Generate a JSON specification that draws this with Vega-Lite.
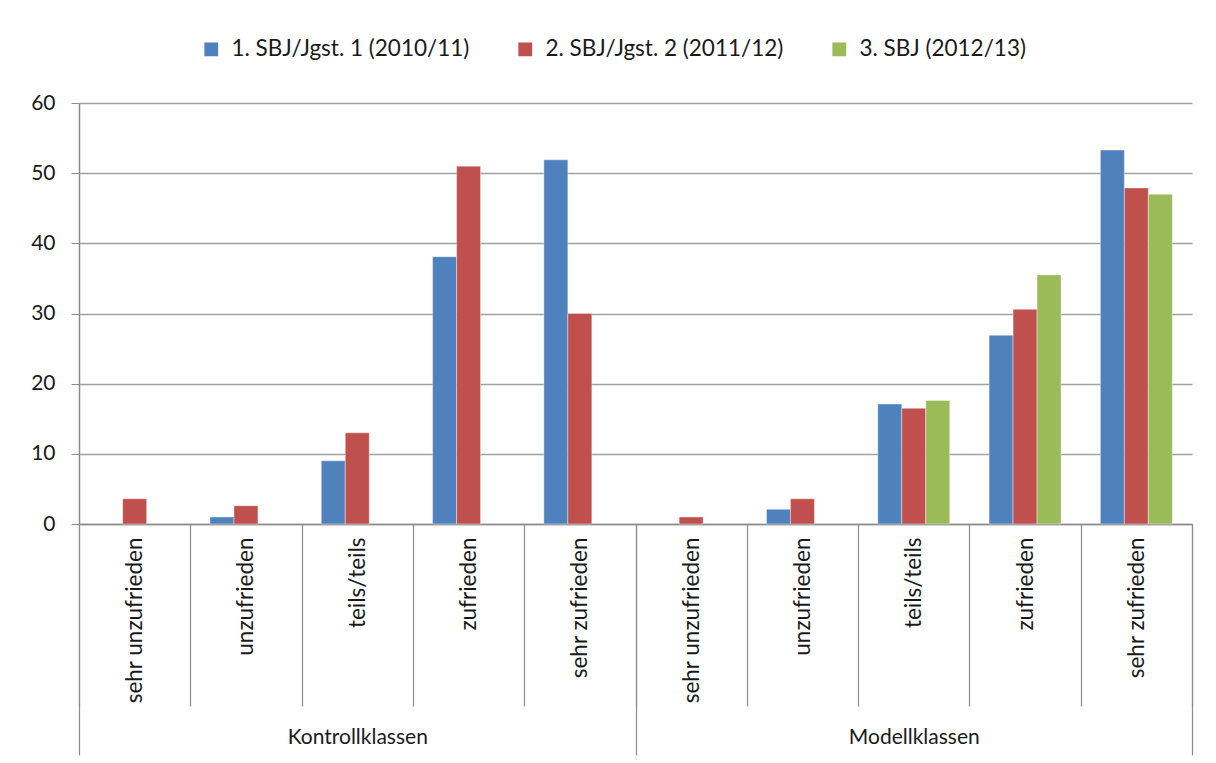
{
  "$schema": "https://vega.github.io/schema/vega-lite/v6.json",
  "width": 1113,
  "height": 421,
  "autosize": {"type": "none"},
  "padding": {"left": 79, "top": 103, "right": 24, "bottom": 239},
  "background": "white",
  "config": {"font": "Lato", "view": {"stroke": null}},
  "data": {
    "values": [
      {"group": "Kontrollklassen", "key": "K|sehr unzufrieden", "series": "2. SBJ/Jgst. 2 (2011/12)", "value": 3.6},
      {"group": "Kontrollklassen", "key": "K|unzufrieden", "series": "1. SBJ/Jgst. 1 (2010/11)", "value": 1.0},
      {"group": "Kontrollklassen", "key": "K|unzufrieden", "series": "2. SBJ/Jgst. 2 (2011/12)", "value": 2.6},
      {"group": "Kontrollklassen", "key": "K|teils/teils", "series": "1. SBJ/Jgst. 1 (2010/11)", "value": 9.0},
      {"group": "Kontrollklassen", "key": "K|teils/teils", "series": "2. SBJ/Jgst. 2 (2011/12)", "value": 13.0},
      {"group": "Kontrollklassen", "key": "K|zufrieden", "series": "1. SBJ/Jgst. 1 (2010/11)", "value": 38.1},
      {"group": "Kontrollklassen", "key": "K|zufrieden", "series": "2. SBJ/Jgst. 2 (2011/12)", "value": 51.0},
      {"group": "Kontrollklassen", "key": "K|sehr zufrieden", "series": "1. SBJ/Jgst. 1 (2010/11)", "value": 51.9},
      {"group": "Kontrollklassen", "key": "K|sehr zufrieden", "series": "2. SBJ/Jgst. 2 (2011/12)", "value": 30.0},
      {"group": "Modellklassen", "key": "M|sehr unzufrieden", "series": "2. SBJ/Jgst. 2 (2011/12)", "value": 1.0},
      {"group": "Modellklassen", "key": "M|unzufrieden", "series": "1. SBJ/Jgst. 1 (2010/11)", "value": 2.1},
      {"group": "Modellklassen", "key": "M|unzufrieden", "series": "2. SBJ/Jgst. 2 (2011/12)", "value": 3.6},
      {"group": "Modellklassen", "key": "M|teils/teils", "series": "1. SBJ/Jgst. 1 (2010/11)", "value": 17.1},
      {"group": "Modellklassen", "key": "M|teils/teils", "series": "2. SBJ/Jgst. 2 (2011/12)", "value": 16.5},
      {"group": "Modellklassen", "key": "M|teils/teils", "series": "3. SBJ (2012/13)", "value": 17.6},
      {"group": "Modellklassen", "key": "M|zufrieden", "series": "1. SBJ/Jgst. 1 (2010/11)", "value": 26.9},
      {"group": "Modellklassen", "key": "M|zufrieden", "series": "2. SBJ/Jgst. 2 (2011/12)", "value": 30.6},
      {"group": "Modellklassen", "key": "M|zufrieden", "series": "3. SBJ (2012/13)", "value": 35.5},
      {"group": "Modellklassen", "key": "M|sehr zufrieden", "series": "1. SBJ/Jgst. 1 (2010/11)", "value": 53.3},
      {"group": "Modellklassen", "key": "M|sehr zufrieden", "series": "2. SBJ/Jgst. 2 (2011/12)", "value": 47.9},
      {"group": "Modellklassen", "key": "M|sehr zufrieden", "series": "3. SBJ (2012/13)", "value": 47.0}
    ]
  },
  "layer": [
    {
      "mark": {"type": "bar", "stroke": "white", "strokeOpacity": 0.5, "strokeWidth": 0.8},
      "encoding": {
        "x": {
          "field": "key",
          "type": "nominal",
          "sort": null,
          "scale": {"paddingInner": 0, "paddingOuter": 0},
          "axis": {
            "orient": "bottom",
            "title": null,
            "labelExpr": "split(datum.value, '|')[1]",
            "labelAngle": -90,
            "labelFontSize": 22.5,
            "labelColor": "#1a1a1a",
            "labelLimit": 300,
            "tickBand": "extent",
            "tickSize": 182,
            "labelPadding": -169,
            "tickColor": "#8c8c8c",
            "tickWidth": 1.2,
            "domainColor": "#8c8c8c",
            "domainWidth": 1.5
          }
        },
        "xOffset": {
          "field": "series",
          "type": "nominal",
          "scale": {"domain": ["1. SBJ/Jgst. 1 (2010/11)", "2. SBJ/Jgst. 2 (2011/12)", "3. SBJ (2012/13)"], "paddingInner": 0, "paddingOuter": 0.82}
        },
        "y": {
          "field": "value",
          "type": "quantitative",
          "scale": {"domain": [0, 60]},
          "axis": {
            "title": null,
            "values": [0, 10, 20, 30, 40, 50, 60],
            "grid": true,
            "gridColor": "#a0a0a0",
            "gridWidth": 1.5,
            "domainColor": "#8c8c8c",
            "domainWidth": 1.5,
            "tickColor": "#8c8c8c",
            "tickSize": 8,
            "labelPadding": 16,
            "labelFontSize": 21,
            "labelColor": "#1a1a1a"
          }
        },
        "color": {
          "field": "series",
          "type": "nominal",
          "scale": {"domain": ["1. SBJ/Jgst. 1 (2010/11)", "2. SBJ/Jgst. 2 (2011/12)", "3. SBJ (2012/13)"], "range": ["#4F81BD", "#C0504D", "#9BBB59"]},
          "legend": {
            "title": null,
            "orient": "none",
            "legendX": 121,
            "legendY": -65,
            "direction": "horizontal",
            "padding": 0,
            "symbolType": "square",
            "symbolSize": 190,
            "symbolStrokeWidth": 0,
            "labelFontSize": 22.5,
            "labelLimit": 400,
            "labelColor": "#1a1a1a",
            "labelOffset": 9,
            "columnPadding": 44
          }
        }
      }
    },
    {
      "mark": {"type": "bar", "opacity": 0},
      "encoding": {
        "x": {
          "field": "group",
          "type": "nominal",
          "sort": null,
          "scale": {"paddingInner": 0, "paddingOuter": 0},
          "axis": {
            "orient": "bottom",
            "title": null,
            "labelAngle": 0,
            "labelFontSize": 21,
            "labelColor": "#1a1a1a",
            "tickBand": "extent",
            "tickSize": 231,
            "tickWidth": 1.2,
            "labelPadding": -29,
            "tickColor": "#8c8c8c",
            "domain": false
          }
        },
        "y": {"field": "value", "type": "quantitative"}
      }
    }
  ],
  "resolve": {"scale": {"x": "independent"}, "axis": {"x": "independent"}}
}
